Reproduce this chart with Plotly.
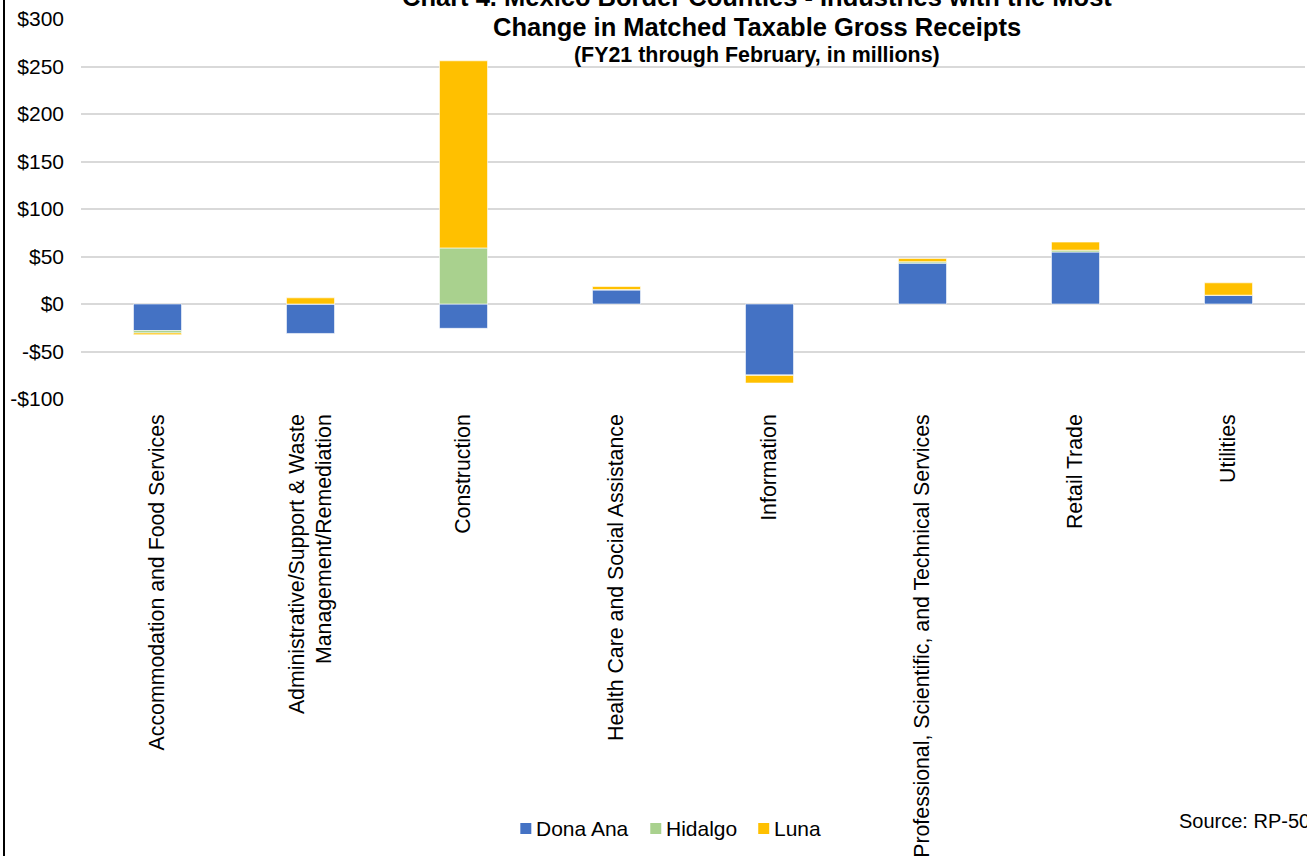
import plotly.graph_objects as go

categories = [
    "Accommodation and Food Services",
    "Administrative/Support & Waste<br>Management/Remediation",
    "Construction",
    "Health Care and Social Assistance",
    "Information",
    "Professional, Scientific, and Technical Services",
    "Retail Trade",
    "Utilities",
]
dona_ana = [-28.0, -31.0, -25.6, 14.7, -74.7, 43.0, 54.7, 9.0]
hidalgo = [-2.5, 0.0, 59.0, 0.5, -0.5, 1.5, 2.0, 0.3]
luna = [-1.8, 6.5, 197.0, 3.2, -8.0, 3.5, 8.5, 13.0]

series_names = ["Dona Ana", "Hidalgo", "Luna"]
series_colors = ["#4472C4", "#A9D18E", "#FFC000"]

tick_vals = [-100, -50, 0, 50, 100, 150, 200, 250, 300]
tick_text = ["-$100", "-$50", "$0", "$50", "$100", "$150", "$200", "$250", "$300"]

FONT = "Arial, Liberation Sans, sans-serif"
W, H = 1307, 856
L, R, T, B = 80.5, 2, 19, 457
pw = W - L - R
ph = H - T - B


def px_to_paper_x(x):
    return (x - L) / pw


def px_to_paper_y(y):
    return (H - B - y) / ph


fig = go.Figure()
for name, vals, color in zip(series_names, [dona_ana, hidalgo, luna], series_colors):
    fig.add_trace(go.Bar(
        x=categories, y=vals, name=name, showlegend=False,
        marker=dict(color=color, line=dict(color="rgba(255,255,255,0.6)", width=1)),
    ))

fig.update_layout(
    width=W, height=H,
    margin=dict(l=L, r=R, t=T, b=B, autoexpand=False),
    barmode="relative",
    bargap=0.686,
    plot_bgcolor="white",
    paper_bgcolor="white",
    font=dict(family=FONT, color="black", size=20),
    showlegend=False,
    xaxis=dict(
        tickangle=-90, tickfont=dict(family=FONT, size=21.3, color="black"),
        showgrid=False, showline=False, ticks="", automargin=False,
        ticklabelstandoff=10,
    ),
    yaxis=dict(
        range=[-100, 300], tickvals=tick_vals, ticktext=tick_text,
        tickfont=dict(family=FONT, size=21, color="black"),
        showgrid=True, gridcolor="#D9D9D9", gridwidth=2,
        zeroline=True, zerolinecolor="#D9D9D9", zerolinewidth=2,
        showline=False, ticks="", automargin=False, ticklabelstandoff=16,
    ),
)

# Title
title_x = px_to_paper_x(757)
fig.add_annotation(text="<b>Chart 4. Mexico Border Counties - Industries with the Most</b>",
                   x=title_x, y=px_to_paper_y(-2.5), xref="paper", yref="paper",
                   showarrow=False, xanchor="center", yanchor="middle",
                   font=dict(family=FONT, size=25.5, color="black"))
fig.add_annotation(text="<b>Change in Matched Taxable Gross Receipts</b>",
                   x=title_x, y=px_to_paper_y(27), xref="paper", yref="paper",
                   showarrow=False, xanchor="center", yanchor="middle",
                   font=dict(family=FONT, size=25.5, color="black"))
fig.add_annotation(text="<b>(FY21 through February, in millions)</b>",
                   x=title_x, y=px_to_paper_y(55), xref="paper", yref="paper",
                   showarrow=False, xanchor="center", yanchor="middle",
                   font=dict(family=FONT, size=21.4, color="black"))

# Source note
fig.add_annotation(text="Source: RP-500",
                   x=px_to_paper_x(1177), y=px_to_paper_y(821), xref="paper", yref="paper",
                   showarrow=False, xanchor="left", yanchor="middle",
                   font=dict(family=FONT, size=20, color="black"))

# Compact legend (Excel style): small square + label
legend_square_x = [520, 650, 758]
legend_text_x = [534, 664, 771.5]
for name, color, sx, tx in zip(series_names, series_colors, legend_square_x, legend_text_x):
    fig.add_shape(type="rect", xref="paper", yref="paper",
                  x0=px_to_paper_x(sx), x1=px_to_paper_x(sx + 11),
                  y0=px_to_paper_y(834), y1=px_to_paper_y(823),
                  line=dict(width=0), fillcolor=color)
    fig.add_annotation(text=name, x=px_to_paper_x(tx), y=px_to_paper_y(828.5),
                       xref="paper", yref="paper", showarrow=False,
                       xanchor="left", yanchor="middle",
                       font=dict(family=FONT, size=21, color="black"))

# Chart-area border (left edge visible)
fig.add_shape(type="line", xref="paper", yref="paper", xsizemode="pixel", xanchor=0,
              x0=-77, x1=-77, y0=px_to_paper_y(-5), y1=px_to_paper_y(H + 5),
              line=dict(color="black", width=2))

fig.write_html("out.html")
